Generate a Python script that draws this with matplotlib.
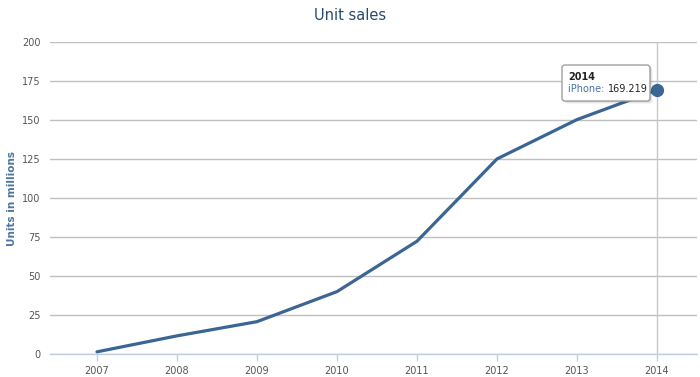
import matplotlib.pyplot as plt
from matplotlib.patches import FancyBboxPatch
from matplotlib.transforms import IdentityTransform

years = ["2007", "2008", "2009", "2010", "2011", "2012", "2013", "2014"]
iphone = [1.39, 11.63, 20.73, 39.99, 72.29, 125.05, 150.26, 169.219]
y_ticks = [0, 25, 50, 75, 100, 125, 150, 175, 200]

line_color = "#3b6694"
grid_color = "#c0c0c0"
axis_color = "#c0d0e0"


def main() -> None:
    fig = plt.figure(figsize=(7, 3.77), dpi=100)
    ax = fig.add_axes([50 / 700, 23 / 377, 647 / 700, 312 / 377])

    x = list(range(len(years)))
    ax.plot(x, iphone, color=line_color, lw=2.3, solid_capstyle="round",
            solid_joinstyle="round", zorder=3)
    ax.plot(x[-1], iphone[-1], "o", ms=8.5, color=line_color, zorder=4)

    ax.set_xlim(-0.5875, len(years) - 0.5)
    ax.set_ylim(0, 200)
    ax.set_yticks(y_ticks)
    ax.set_xticks(x)
    ax.set_xticklabels(years)
    ax.grid(axis="y", color=grid_color, lw=1)
    ax.set_axisbelow(True)

    # crosshair on hovered point
    ax.axvline(x[-1], color="#c8c8c8", lw=1, zorder=1)

    for side in ("top", "right", "left"):
        ax.spines[side].set_visible(False)
    ax.spines["bottom"].set_color(axis_color)
    ax.spines["bottom"].set_linewidth(1)
    ax.tick_params(axis="x", colors=axis_color, length=5, width=1,
                   labelcolor="#555555", labelsize=7, pad=4)
    ax.tick_params(axis="y", length=0, labelcolor="#555555", labelsize=7,
                   pad=7)

    ax.set_ylabel("Units in millions", color="#4d759e", fontsize=7.5,
                  fontweight="bold", labelpad=3)
    fig.text(0.5, 1 - 15 / 377, "Unit sales", ha="center", va="center",
             color="#274b6d", fontsize=10.5)

    # tooltip
    fig.canvas.draw()
    px, py = ax.transData.transform((x[-1], iphone[-1]))
    left, right = px - 95, px - 7
    top, bottom = py + 25, py - 11
    for k, a in ((3, 0.04), (2, 0.06), (1, 0.1)):
        shadow = FancyBboxPatch((left + k, bottom - k), right - left, top - bottom,
                                boxstyle="round,pad=0,rounding_size=3",
                                fc="black", ec="none", alpha=a,
                                transform=IdentityTransform(), zorder=5)
        fig.patches.append(shadow)
    box = FancyBboxPatch((left, bottom), right - left, top - bottom,
                         boxstyle="round,pad=0,rounding_size=3",
                         fc="white", ec="#a0a0a0", lw=1,
                         transform=IdentityTransform(), zorder=6)
    fig.patches.append(box)

    fig.text(left + 6, py + 13, years[-1], transform=IdentityTransform(),
             fontsize=7, fontweight="bold", color="#222222",
             va="center", ha="left", zorder=7)
    t = fig.text(left + 6, py + 1, "iPhone: ", transform=IdentityTransform(),
                 fontsize=7, color="#4572a7", va="center", ha="left",
                 zorder=7)
    fig.canvas.draw()
    bb = t.get_window_extent()
    fig.text(bb.x1, py + 1, f"{iphone[-1]:.3f}",
             transform=IdentityTransform(), fontsize=7, color="#222222",
             va="center", ha="left", zorder=7)

    fig.savefig("out.png", dpi=100)


if __name__ == "__main__":
    main()
